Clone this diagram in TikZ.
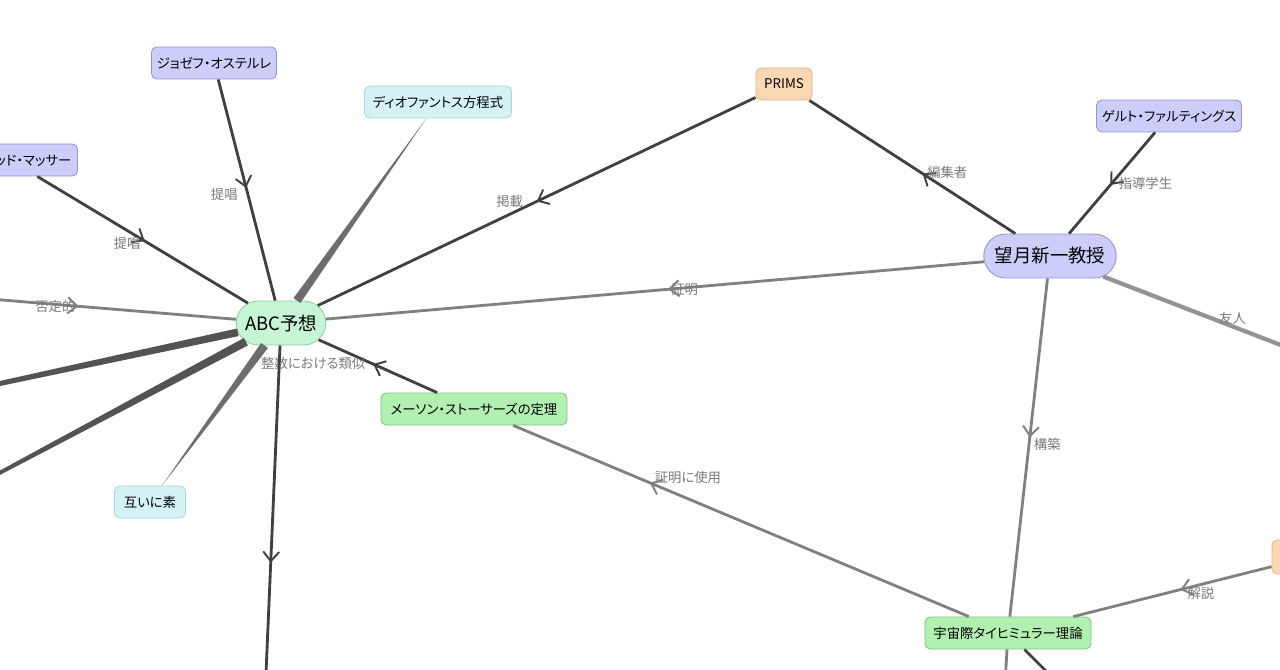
\documentclass[tikz,border=0pt]{standalone}
\usepackage{fontspec}
\newfontfamily\jp[RawFeature=+palt]{Noto Sans CJK JP}
\usepackage{tikz}
\usetikzlibrary{arrows.meta,decorations.markings,shapes.misc,calc,positioning}

\definecolor{personfill}{HTML}{CDCDFA}
\definecolor{personline}{HTML}{9494D4}
\definecolor{abcfill}{HTML}{C6F5D6}
\definecolor{abcline}{HTML}{92D0A4}
\definecolor{theoryfill}{HTML}{B2F0B2}
\definecolor{theoryline}{HTML}{7FC87F}
\definecolor{termfill}{HTML}{D4F2F4}
\definecolor{termline}{HTML}{A2D8DC}
\definecolor{orgfill}{HTML}{FBD8B4}
\definecolor{orgline}{HTML}{E2B482}
\definecolor{edgedark}{HTML}{404040}
\definecolor{edgegray}{HTML}{808080}
\definecolor{labelgray}{HTML}{7A7A7A}

\begin{document}
\begin{tikzpicture}[x=0.02cm,y=-0.02cm,>={Straight Barb[length=1.9mm,width=3.2mm,line width=1.1pt]},
  box/.style={rectangle,draw,rounded corners=3pt,line width=0.5pt,inner sep=1pt,minimum height=0.64cm,font=\jp\fontsize{7.6}{9}\selectfont},
  person/.style={box,draw=personline,fill=personfill},
  theory/.style={box,draw=theoryline,fill=theoryfill},
  term/.style={box,draw=termline,fill=termfill},
  org/.style={box,draw=orgline,fill=orgfill},
  hub/.style={rounded rectangle,draw,line width=0.5pt,inner sep=1pt,minimum height=0.88cm,font=\jp\fontsize{10.5}{12}\selectfont},
  dk/.style={color=edgedark,line width=1.6pt},
  gr/.style={color=edgegray,line width=1.6pt},
  tp/.style={fill=edgegray!85!black},
  mid/.style={postaction={decorate},decoration={markings,mark=at position #1 with {\arrow{>}}}},
  lbl/.style={text=labelgray,font=\jp\fontsize{7.6}{9}\selectfont,inner sep=0pt}]

  \fill[white,use as bounding box] (0,0) rectangle (1280,669);
  \clip (0,0) rectangle (1280,669);

  % nodes
  \node[hub,draw=abcline,fill=abcfill,minimum width=1.86cm] (abc) at (281,323) {ABC予想};
  \node[hub,draw=personline,fill=personfill,minimum width=2.72cm] (moc) at (1050,256) {望月新一教授};
  \node[person,minimum width=2.5cm] (jos) at (214,63) {ジョゼフ・オステルレ};
  \node[person,minimum width=2.7cm] (mas) at (10,160) {デイヴィッド・マッサー};
  \node[person,minimum width=2.9cm] (gft) at (1169,116) {ゲルト・ファルティングス};
  \node[term,minimum width=2.94cm] (dio) at (438,102) {ディオファントス方程式};
  \node[term,minimum width=1.42cm] (tag) at (150,502) {互いに素};
  \node[org,minimum width=1.12cm] (prims) at (784,84) {PRIMS};
  \node[org,minimum width=1.52cm,minimum height=0.68cm] (rorg) at (1310,557) {};
  \node[theory,minimum width=3.72cm] (mst) at (474,409) {メーソン・ストーサーズの定理};
  \node[theory,minimum width=3.32cm] (ut) at (1008,633) {宇宙際タイヒミュラー理論};

  % free ends outside the frame
  \coordinate (neg) at (-10,299);
  \coordinate (frd) at (1330,364);
  \coordinate (lf1) at (-100,405);
  \coordinate (lf2) at (-100,526);
  \coordinate (bot1) at (264,720);
  \coordinate (bot2) at (1004,700);
  \coordinate (bot3) at (1075,700);

  % tapered links
  \path (dio) -- coordinate[pos=0] (dio-a) coordinate[pos=1] (dio-b) (abc);
  \fill[tp] (dio-a) -- ($(dio-b)!2.4pt!90:(dio-a)$) -- ($(dio-b)!2.4pt!-90:(dio-a)$) -- cycle;
  \path (tag) -- coordinate[pos=0] (tag-a) coordinate[pos=1] (tag-b) (abc);
  \fill[tp] (tag-a) -- ($(tag-b)!2.4pt!90:(tag-a)$) -- ($(tag-b)!2.4pt!-90:(tag-a)$) -- cycle;
  \path (abc) -- coordinate[pos=0] (lf1-a) (lf1);
  \fill[edgedark!90] ($(lf1-a)!2.2pt!90:(lf1)$) -- ($(lf1-a)!2.2pt!-90:(lf1)$)
    -- ($(lf1)!1.1pt!90:(lf1-a)$) -- ($(lf1)!1.1pt!-90:(lf1-a)$) -- cycle;
  \path (abc) -- coordinate[pos=0] (lf2-a) (lf2);
  \fill[edgedark!90] ($(lf2-a)!2.4pt!90:(lf2)$) -- ($(lf2-a)!2.4pt!-90:(lf2)$)
    -- ($(lf2)!0.6pt!90:(lf2-a)$) -- ($(lf2)!0.6pt!-90:(lf2-a)$) -- cycle;

  % links with labels
  \draw[dk,mid=.49] (jos) -- node[lbl,pos=.52,left=5pt] {提唱} (abc);
  \draw[dk,mid=.51] (mas) -- node[lbl,pos=.53,left=4pt] {提唱} (abc);
  \draw[dk,mid=.5] (prims) -- node[lbl,pos=.5,left=7pt] {掲載} (abc);
  \draw[dk,mid=.45] (moc) -- node[lbl,pos=.46,right=3pt] {編集者} (prims);
  \draw[dk,mid=.52] (gft) -- node[lbl,pos=.5,right=3pt] {指導学生} (moc);
  \draw[gr,mid=.48] (moc) -- node[lbl,pos=.48,right=1pt] {証明} (abc);
  \draw[gr,mid=.36] (neg) -- node[lbl,pos=.36,left=1pt] {否定的} (abc);
  \draw[color=edgegray!85,line width=2.4pt] (moc) -- node[lbl,pos=.57,above=0pt] {友人} (frd);
  \draw[dk,mid=.54] (mst) -- node[lbl,pos=.55,left=3pt] {整数における類似} (abc);
  \draw[gr,mid=.70] (ut) -- node[lbl,pos=.70,right=2pt,yshift=3pt] {証明に使用} (mst);
  \draw[gr,mid=.47] (moc) -- node[lbl,pos=.49,right=2pt] {構築} (ut);
  \draw[gr,mid=.46] (rorg) -- node[lbl,pos=.44,right=1pt,yshift=-3pt] {解説} (ut);
  \draw[dk,mid=.58] (abc) -- (bot1);
  \draw[gr] (ut) -- (bot2);
  \draw[dk] (ut) -- (bot3);
\end{tikzpicture}
\end{document}
